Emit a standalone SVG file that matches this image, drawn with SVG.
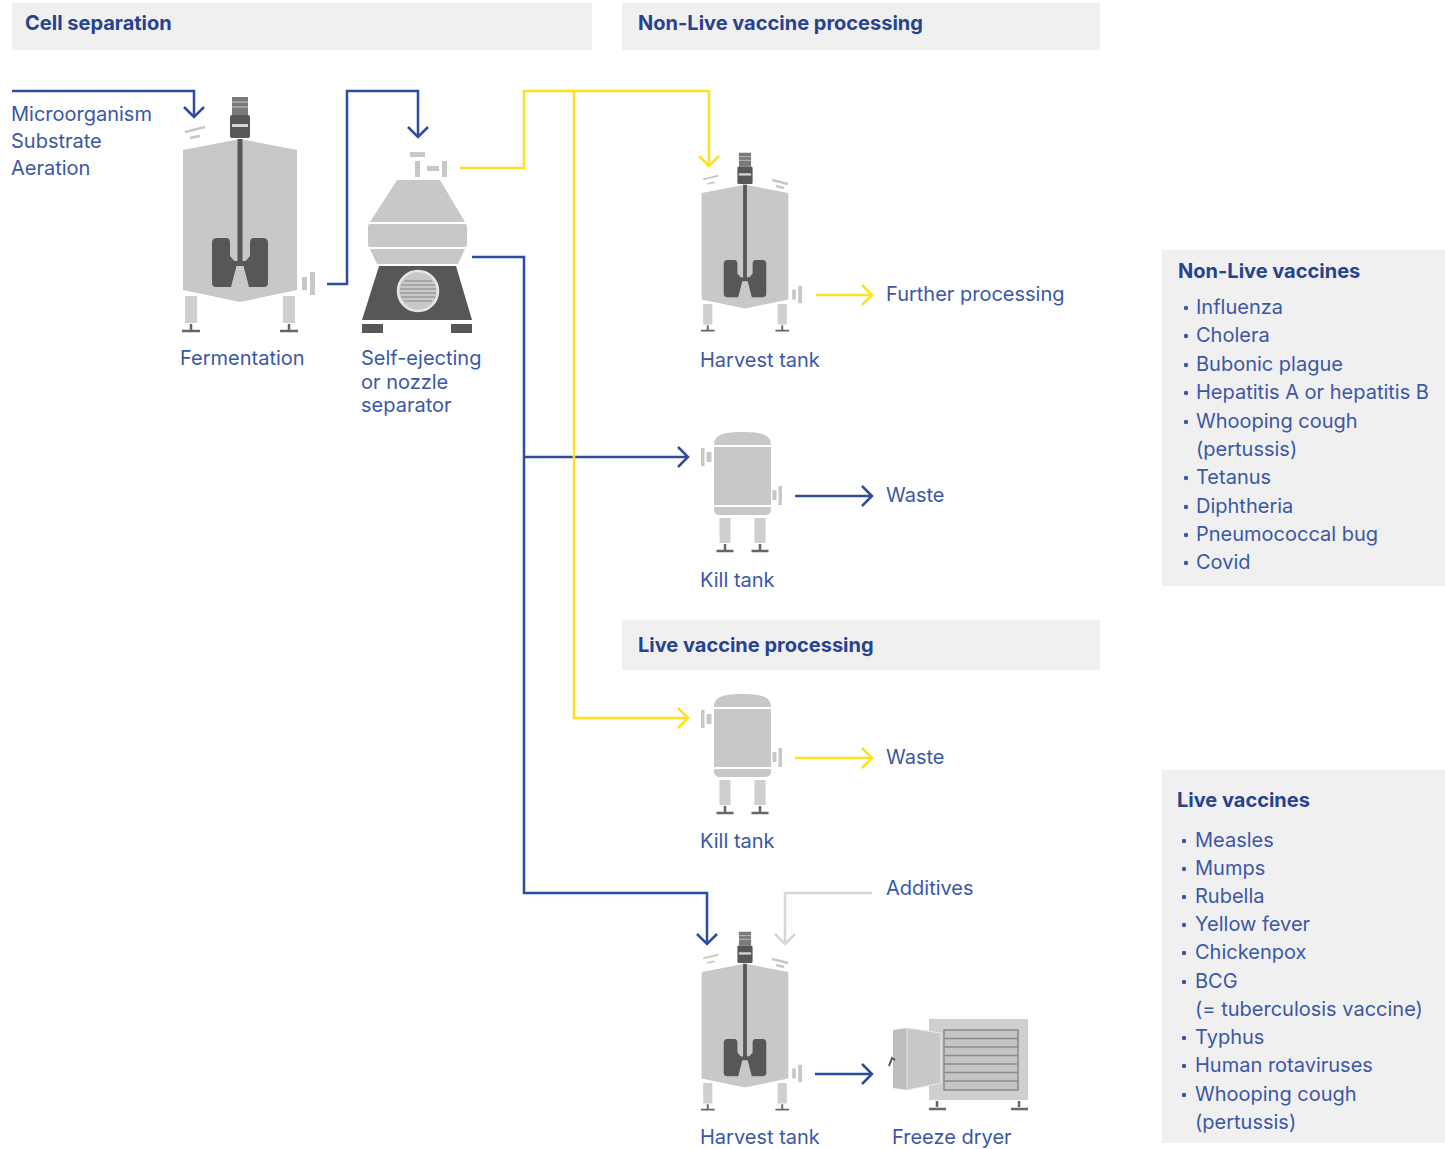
<svg xmlns="http://www.w3.org/2000/svg" width="1445" height="1149" viewBox="0 0 1445 1149">
<style>
.band{fill:#f0f0f0}
.h{font-family:Inter,"Liberation Sans",sans-serif;font-weight:700;font-size:20px;fill:#27428f}
.t{font-family:Inter,"Liberation Sans",sans-serif;font-size:20px;fill:#3c57a7}
.cb{fill:none;stroke:#2f4ba0;stroke-width:2.5}
.cy{fill:none;stroke:#ffe21f;stroke-width:2.5}
.cg{fill:none;stroke:#d6d6d6;stroke-width:2.5}
.lg{fill:#c8c8c8}
.ll{fill:#cfcfcf}
.dk{fill:#575757}
.vent{stroke:#c8c8c8;stroke-width:2.5;fill:none}
.bul{fill:#3c57a7}
</style>
<defs>
<marker id="mb" viewBox="-12 -12 15 24" refX="0" refY="0" markerWidth="15" markerHeight="24" markerUnits="userSpaceOnUse" orient="auto" overflow="visible"><path d="M-10,-10 L0,0 L-10,10" fill="none" stroke="#2f4ba0" stroke-width="2.5"/></marker>
<marker id="my" viewBox="-12 -12 15 24" refX="0" refY="0" markerWidth="15" markerHeight="24" markerUnits="userSpaceOnUse" orient="auto" overflow="visible"><path d="M-10,-10 L0,0 L-10,10" fill="none" stroke="#ffe21f" stroke-width="2.5"/></marker>
<marker id="mg" viewBox="-12 -12 15 24" refX="0" refY="0" markerWidth="15" markerHeight="24" markerUnits="userSpaceOnUse" orient="auto" overflow="visible"><path d="M-10,-10 L0,0 L-10,10" fill="none" stroke="#d6d6d6" stroke-width="2.5"/></marker>
<g id="agt">
  <rect x="-8" y="1" width="16" height="18" fill="#7a7a7a"/>
  <line x1="-8" y1="6" x2="8" y2="6" stroke="#b0b0b0" stroke-width="1.5"/>
  <line x1="-8" y1="11" x2="8" y2="11" stroke="#b0b0b0" stroke-width="1.5"/>
  <rect x="-10" y="19" width="20" height="23" rx="2" class="dk"/>
  <rect x="-8" y="28" width="16" height="3" fill="#d8d8d8"/>
  <path d="M-55,36 L-35,31 M-50,42 L-40,40" class="vent"/>
  <path d="M-57,54 L0,43 L57,54 L57,194 L0,206 L-57,194 Z" class="lg"/>
  <rect x="-2.5" y="43" width="5" height="125" class="dk"/>
  <rect x="-11" y="165" width="22" height="5" class="dk"/>
  <path d="M-28,147 Q-28,142 -23,142 L-14,142 Q-10,142 -10,147 L-10,160 L-3,168 L-9,191 L-24,191 Q-28,191 -28,187 Z" class="dk"/>
  <path d="M28,147 Q28,142 23,142 L14,142 Q10,142 10,147 L10,160 L3,168 L9,191 L24,191 Q28,191 28,187 Z" class="dk"/>
  <rect x="-55" y="200" width="12" height="27" class="ll"/>
  <rect x="43" y="200" width="12" height="27" class="ll"/>
  <path d="M-49,228 L-49,234 M-58,235 L-40,235 M49,228 L49,234 M40,235 L58,235" stroke="#666" stroke-width="2.5" fill="none"/>
  <rect x="62" y="181" width="5" height="13" class="lg"/>
  <rect x="70" y="176" width="5" height="23" class="lg"/>
</g>
<g id="kt">
  <path d="M-28.5,13 C-28.5,3 -20,0 0,0 C20,0 28.5,3 28.5,13 Z" class="lg"/>
  <rect x="-28.5" y="15" width="57" height="58" class="lg"/>
  <path d="M-28.5,75 L28.5,75 L28.5,78 Q28.5,83 22,83 L-22,83 Q-28.5,83 -28.5,78 Z" class="lg"/>
  <rect x="-23" y="86" width="11" height="25" class="ll"/>
  <rect x="12" y="86" width="11" height="25" class="ll"/>
  <path d="M-17.5,112 L-17.5,118 M-26,119 L-9,119 M17.5,112 L17.5,118 M9,119 L26,119" stroke="#666" stroke-width="2.5" fill="none"/>
  <rect x="-41.5" y="16" width="3.5" height="18" class="lg"/>
  <rect x="-36" y="20" width="5" height="10" class="lg"/>
  <rect x="30" y="58" width="4" height="10" class="lg"/>
  <rect x="36" y="54" width="3.5" height="19" class="lg"/>
</g>
</defs>

<g id="bands">
  <rect class="band" x="12" y="3" width="580" height="47"/>
  <text class="h" x="25" y="30">Cell separation</text>
  <rect class="band" x="622" y="3" width="478" height="47"/>
  <text class="h" x="638" y="30">Non-Live vaccine processing</text>
  <rect class="band" x="622" y="620" width="478" height="50"/>
  <text class="h" x="638" y="652">Live vaccine processing</text>
</g>

<g id="connectors">
  <polyline class="cb" points="12,91 194,91 194,117" marker-end="url(#mb)"/>
  <polyline class="cb" points="327,284 347,284 347,91 418,91 418,137" marker-end="url(#mb)"/>
  <polyline class="cb" points="472,257 524,257 524,893 707,893 707,944" marker-end="url(#mb)"/>
  <polyline class="cb" points="524,457 688,457" marker-end="url(#mb)"/>
  <polyline class="cb" points="795,496 872,496" marker-end="url(#mb)"/>
  <polyline class="cb" points="815,1074 872,1074" marker-end="url(#mb)"/>
  <polyline class="cy" points="460,168 524,168 524,91 709,91 709,166" marker-end="url(#my)"/>
  <polyline class="cy" points="574,91 574,718 688,718" marker-end="url(#my)"/>
  <polyline class="cy" points="816,295 872,295" marker-end="url(#my)"/>
  <polyline class="cy" points="795,758 872,758" marker-end="url(#my)"/>
  <polyline class="cg" points="872,893 785,893 785,944" marker-end="url(#mg)"/>
</g>

<g id="inputs">
  <text class="t" x="11" y="121">Microorganism</text>
  <text class="t" x="11" y="148">Substrate</text>
  <text class="t" x="11" y="175">Aeration</text>
</g>

<g id="fermentation">
  <use href="#agt" transform="translate(240,96)"/>
  <text class="t" x="180" y="365">Fermentation</text>
</g>

<g id="separator">
  <rect x="410" y="152" width="15" height="5" class="lg"/>
  <rect x="415" y="161" width="5" height="16" class="lg"/>
  <rect x="427" y="166" width="12" height="5" class="lg"/>
  <rect x="442" y="161" width="5" height="16" class="lg"/>
  <polygon points="397,180 440,180 465,222 370,222" class="lg"/>
  <rect x="368" y="224" width="99" height="23" rx="2" class="lg"/>
  <polygon points="370,249 465,249 458,264 377,264" class="lg"/>
  <polygon points="379,266 456,266 472,320 362,320" class="dk"/>
  <circle cx="418" cy="291" r="20" fill="#c8c8c8" stroke="#e6e6e6" stroke-width="2.5"/>
  <path d="M404,281 L432,281 M401,285 L435,285 M400,289 L436,289 M400,293 L436,293 M401,297 L435,297 M404,301 L432,301" stroke="#9a9a9a" stroke-width="1.5"/>
  <rect x="362" y="324" width="21" height="9" class="dk"/>
  <rect x="451" y="324" width="21" height="9" class="dk"/>
  <text class="t" x="361" y="365">Self-ejecting</text>
  <text class="t" x="361" y="389">or nozzle</text>
  <text class="t" x="361" y="412">separator</text>
</g>

<g id="harvest-tank-1">
  <use href="#agt" transform="translate(745,152) scale(0.76)"/>
  <path d="M772,180 L788,184 M776,186 L784,188" class="vent" stroke-width="2"/>
  <text class="t" x="700" y="367">Harvest tank</text>
  <text class="t" x="886" y="301">Further processing</text>
</g>

<g id="kill-tank-1">
  <use href="#kt" transform="translate(742.5,432)"/>
  <text class="t" x="700" y="587">Kill tank</text>
  <text class="t" x="886" y="502">Waste</text>
</g>

<g id="kill-tank-2">
  <use href="#kt" transform="translate(742.5,694)"/>
  <text class="t" x="700" y="848">Kill tank</text>
  <text class="t" x="886" y="764">Waste</text>
</g>

<g id="harvest-tank-2">
  <use href="#agt" transform="translate(745,931) scale(0.76)"/>
  <path d="M772,959 L788,963 M776,965 L784,967" class="vent" stroke-width="2"/>
  <text class="t" x="886" y="895">Additives</text>
  <text class="t" x="700" y="1144">Harvest tank</text>
</g>

<g id="freeze-dryer">
  <rect x="929" y="1019" width="99" height="81" class="ll"/>
  <rect x="944" y="1030" width="74" height="60" fill="#c4c4c4" stroke="#8a8a8a" stroke-width="1.5"/>
  <path d="M944,1038.5 L1018,1038.5 M944,1047 L1018,1047 M944,1055.5 L1018,1055.5 M944,1064 L1018,1064 M944,1072.5 L1018,1072.5 M944,1081 L1018,1081" stroke="#8a8a8a" stroke-width="1.5"/>
  <polygon points="893,1030 907,1028 907,1090 893,1088" fill="#bdbdbd"/>
  <polygon points="907,1028 941,1033 941,1083 907,1090" class="lg" stroke="#e8e8e8" stroke-width="1"/>
  <path d="M889,1066 L892,1058 L895,1060" stroke="#555" stroke-width="2" fill="none"/>
  <path d="M937,1101 L937,1107 M929,1109 L946,1109 M1019,1101 L1019,1107 M1011,1109 L1028,1109" stroke="#666" stroke-width="2.5" fill="none"/>
  <text class="t" x="892" y="1144">Freeze dryer</text>
</g>

<g id="non-live-vaccines">
  <rect class="band" x="1162" y="250" width="283" height="336"/>
  <text class="h" x="1178" y="278">Non-Live vaccines</text>
  <g class="bul">
    <circle cx="1186" cy="308" r="2.2"/><circle cx="1186" cy="336" r="2.2"/><circle cx="1186" cy="365" r="2.2"/><circle cx="1186" cy="393" r="2.2"/><circle cx="1186" cy="422" r="2.2"/><circle cx="1186" cy="478" r="2.2"/><circle cx="1186" cy="507" r="2.2"/><circle cx="1186" cy="535" r="2.2"/><circle cx="1186" cy="563" r="2.2"/>
  </g>
  <text class="t" x="1196" y="314">Influenza</text>
  <text class="t" x="1196" y="342">Cholera</text>
  <text class="t" x="1196" y="371">Bubonic plague</text>
  <text class="t" x="1196" y="399">Hepatitis A or hepatitis B</text>
  <text class="t" x="1196" y="428">Whooping cough</text>
  <text class="t" x="1196" y="456">(pertussis)</text>
  <text class="t" x="1196" y="484">Tetanus</text>
  <text class="t" x="1196" y="513">Diphtheria</text>
  <text class="t" x="1196" y="541">Pneumococcal bug</text>
  <text class="t" x="1196" y="569">Covid</text>
</g>

<g id="live-vaccines">
  <rect class="band" x="1162" y="770" width="283" height="373"/>
  <text class="h" x="1177" y="807">Live vaccines</text>
  <g class="bul">
    <circle cx="1184" cy="841" r="2.2"/><circle cx="1184" cy="869" r="2.2"/><circle cx="1184" cy="897" r="2.2"/><circle cx="1184" cy="925" r="2.2"/><circle cx="1184" cy="953" r="2.2"/><circle cx="1184" cy="982" r="2.2"/><circle cx="1184" cy="1038" r="2.2"/><circle cx="1184" cy="1066" r="2.2"/><circle cx="1184" cy="1095" r="2.2"/>
  </g>
  <text class="t" x="1195" y="847">Measles</text>
  <text class="t" x="1195" y="875">Mumps</text>
  <text class="t" x="1195" y="903">Rubella</text>
  <text class="t" x="1195" y="931">Yellow fever</text>
  <text class="t" x="1195" y="959">Chickenpox</text>
  <text class="t" x="1195" y="988">BCG</text>
  <text class="t" x="1195" y="1016">(= tuberculosis vaccine)</text>
  <text class="t" x="1195" y="1044">Typhus</text>
  <text class="t" x="1195" y="1072">Human rotaviruses</text>
  <text class="t" x="1195" y="1101">Whooping cough</text>
  <text class="t" x="1195" y="1129">(pertussis)</text>
</g>
</svg>
